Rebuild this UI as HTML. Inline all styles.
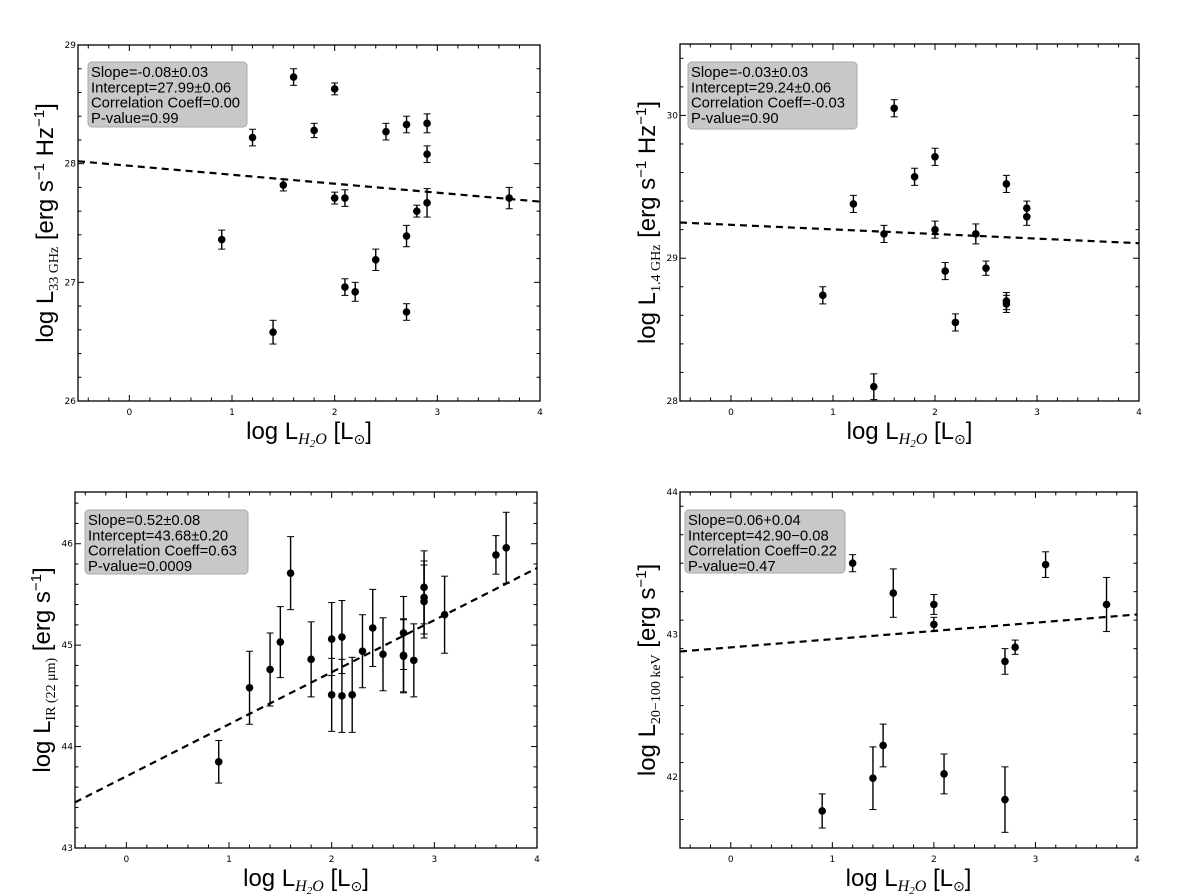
<!DOCTYPE html>
<html><head><meta charset="utf-8"><style>
html,body{margin:0;padding:0;background:#fff;}
svg{display:block;font-family:"Liberation Sans","DejaVu Sans",sans-serif;}
.tick{font-family:"DejaVu Sans","Liberation Sans",sans-serif;font-size:9px;fill:#000;}
.stat{font-size:14.8px;fill:#000;}
.ttl{font-size:24px;fill:#000;}
</style></head><body>
<svg id="fig" width="1200" height="895" viewBox="0 0 1200 895" xmlns="http://www.w3.org/2000/svg"></svg>
<script>
// Panel A: 33 GHz
const aX = [0.9,1.2,1.4,1.5,1.6,1.8,2.0,2.0,2.1,2.1,2.2,2.4,2.5,2.7,2.7,2.7,2.8,2.9,2.9,2.9,3.7];
const aY = [27.36,28.22,26.58,27.82,28.73,28.28,28.63,27.71,27.71,26.96,26.92,27.19,28.27,28.33,27.39,26.75,27.60,28.34,28.08,27.67,27.71];
const aE = [0.08,0.07,0.1,0.05,0.07,0.06,0.05,0.05,0.07,0.07,0.08,0.09,0.07,0.07,0.09,0.07,0.05,0.08,0.07,0.12,0.09];
const aFit = [28.02,27.68];
const aYTicks = [26,27,28,29];
const aStats = ["Slope=-0.08\u00b10.03","Intercept=27.99\u00b10.06","Correlation Coeff=0.00","P-value=0.99"];
// Panel B: 1.4 GHz
const bX = [0.9,1.2,1.4,1.5,1.6,1.8,2.0,2.0,2.1,2.2,2.4,2.5,2.7,2.7,2.7,2.9,2.9];
const bY = [28.74,29.38,28.10,29.17,30.05,29.57,29.71,29.20,28.91,28.55,29.17,28.93,29.52,28.70,28.68,29.35,29.29];
const bE = [0.06,0.06,0.09,0.06,0.06,0.06,0.06,0.06,0.06,0.06,0.07,0.05,0.06,0.06,0.06,0.05,0.06];
const bFit = [29.25,29.105];
const bYTicks = [28,29,30];
const bStats = ["Slope=-0.03\u00b10.03","Intercept=29.24\u00b10.06","Correlation Coeff=-0.03","P-value=0.90"];
// Panel C: IR 22 um
const cX = [0.9,1.2,1.4,1.5,1.6,1.8,2.0,2.0,2.1,2.1,2.2,2.3,2.4,2.5,2.7,2.7,2.7,2.8,2.9,2.9,2.9,3.1,3.6,3.7];
const cY = [43.85,44.58,44.76,45.03,45.71,44.86,45.06,44.51,45.08,44.50,44.51,44.94,45.17,44.91,45.12,44.90,44.89,44.85,45.57,45.47,45.43,45.30,45.89,45.96];
const cE = [0.21,0.36,0.36,0.35,0.36,0.37,0.36,0.36,0.36,0.36,0.37,0.36,0.38,0.36,0.36,0.36,0.36,0.36,0.36,0.36,0.36,0.38,0.19,0.35];
const cFit = [43.45,45.76];
const cYTicks = [43,44,45,46];
const cStats = ["Slope=0.52\u00b10.08","Intercept=43.68\u00b10.20","Correlation Coeff=0.63","P-value=0.0009"];
// Panel D: 20-100 keV
const dX = [0.9,1.2,1.4,1.5,1.6,2.0,2.0,2.1,2.7,2.7,2.8,3.1,3.7];
const dY = [41.76,43.50,41.99,42.22,43.29,43.21,43.07,42.02,42.81,41.84,42.91,43.49,43.21];
const dE = [0.12,0.06,0.22,0.15,0.17,0.07,0.05,0.14,0.09,0.23,0.05,0.09,0.19];
const dFit = [42.88,43.14];
const dYTicks = [42,43,44];
const dStats = ["Slope=0.06+0.04","Intercept=42.90\u22120.08","Correlation Coeff=0.22","P-value=0.47"];
const xTicks = [0,1,2,3,4];

const NS="http://www.w3.org/2000/svg";
const fig=document.getElementById('fig');
function mk(tag,attrs,parent){const e=document.createElementNS(NS,tag);for(const k in attrs)e.setAttribute(k,attrs[k]);(parent||fig).appendChild(e);return e;}

function panel(id,box,ymin,ymax,xs,ys,es,fit,yticks,stats,statBox,titleHTML){
  const g=mk('g',{});
  
  
  const xmin=-0.5,xmax=4;
  const sx=v=>box.l+(v-xmin)/(xmax-xmin)*(box.r-box.l);
  const sy=v=>box.b-(v-ymin)/(ymax-ymin)*(box.b-box.t);
  for(let v=-0.4;v<=3.99;v+=0.2){const x=sx(v);const maj=Math.abs(v-Math.round(v))<1e-6;const L=maj?6:3.5;
    const t1=mk('line',{x1:x,x2:x,y1:box.b,y2:box.b-L,stroke:'#000','stroke-width':1},g);
    
    mk('line',{x1:x,x2:x,y1:box.t,y2:box.t+L,stroke:'#000','stroke-width':1},g);}
  for(let v=ymin+0.2;v<ymax-0.01;v+=0.2){const y=sy(v);const maj=Math.abs(v-Math.round(v))<1e-6;const L=maj?6:3.5;
    const t2=mk('line',{x1:box.l,x2:box.l+L,y1:y,y2:y,stroke:'#000','stroke-width':1},g);
    
    mk('line',{x1:box.r,x2:box.r-L,y1:y,y2:y,stroke:'#000','stroke-width':1},g);}
  xTicks.forEach(v=>{const t=mk('text',{x:sx(v),y:box.b+14,'text-anchor':'middle',class:'tick'},g);t.textContent=v;
    });
  yticks.forEach(v=>{const t=mk('text',{x:box.l-2,y:sy(v)+3,'text-anchor':'end',class:'tick'},g);t.textContent=v;
    });
  const fl=mk('line',{x1:sx(xmin),y1:sy(fit[0]),x2:sx(xmax),y2:sy(fit[1]),stroke:'#000','stroke-width':2.2,'stroke-dasharray':'7,5'},g);
  
  xs.forEach((xv,i)=>{const x=sx(xv),y=sy(ys[i]),y1=sy(ys[i]+es[i]),y2=sy(ys[i]-es[i]);
    const pg=mk('g',{},g);
    
    mk('line',{x1:x,x2:x,y1:y1,y2:y2,stroke:'#000','stroke-width':1.4},pg);
    mk('line',{x1:x-3.5,x2:x+3.5,y1:y1,y2:y1,stroke:'#000','stroke-width':1},pg);
    mk('line',{x1:x-3.5,x2:x+3.5,y1:y2,y2:y2,stroke:'#000','stroke-width':1},pg);
    mk('circle',{cx:x,cy:y,r:3.8,fill:'#000'},pg);});
  const fr=mk('rect',{x:box.l,y:box.t,width:box.r-box.l,height:box.b-box.t,fill:'none',stroke:'#000','stroke-width':1.3},g);
  
  const sb=mk('g',{},g);
  
  mk('rect',{x:statBox.x,y:statBox.y,width:statBox.w,height:statBox.h,rx:4,fill:'#c8c8c8',stroke:'#a8a8a8','stroke-width':1},sb);
  stats.forEach((s,i)=>{const t=mk('text',{x:statBox.x+3,y:statBox.y+15+i*15.3,class:'stat'},sb);t.textContent=s;});
  const xt=mk('text',{x:(box.l+box.r)/2,y:box.b+38,'text-anchor':'middle',class:'ttl'},g);
  
  xt.innerHTML='log L<tspan font-family="Liberation Serif" font-style="italic" font-size="16" dy="5">H<tspan font-size="11" dy="3">2</tspan><tspan dy="-3">O</tspan></tspan><tspan dy="-5"> [L</tspan><tspan font-size="14" dy="5">\u2299</tspan><tspan dy="-5">]</tspan>';
  const cy=(box.t+box.b)/2;
  const yt=mk('text',{x:0,y:0,'text-anchor':'middle',class:'ttl',transform:`translate(${box.l-25},${cy}) rotate(-90)`},g);
  
  yt.innerHTML=titleHTML;
}
panel('radio-33ghz',{l:78,r:540,t:45,b:401},26,29,aX,aY,aE,aFit,aYTicks,aStats,{x:88,y:62,w:159,h:65},
 'log L<tspan font-family="Liberation Serif" font-size="14" dy="5">33 GHz</tspan><tspan dy="-5"> [erg s</tspan><tspan font-size="15" dy="-9">\u22121</tspan><tspan dy="9">  Hz</tspan><tspan font-size="15" dy="-9">\u22121</tspan><tspan dy="9">]</tspan>');
panel('radio-1p4ghz',{l:680,r:1139,t:44,b:401},28,30.5,bX,bY,bE,bFit,bYTicks,bStats,{x:688,y:62,w:169,h:67},
 'log L<tspan font-family="Liberation Serif" font-size="14" dy="5">1.4 GHz</tspan><tspan dy="-5"> [erg s</tspan><tspan font-size="15" dy="-9">\u22121</tspan><tspan dy="9">  Hz</tspan><tspan font-size="15" dy="-9">\u22121</tspan><tspan dy="9">]</tspan>');
panel('infrared-22um',{l:75,r:537,t:492,b:848},43,46.51,cX,cY,cE,cFit,cYTicks,cStats,{x:85,y:510,w:163,h:64},
 'log L<tspan font-family="Liberation Serif" font-size="14" dy="5">IR (22 \u03bcm)</tspan><tspan dy="-5"> [erg s</tspan><tspan font-size="15" dy="-9">\u22121</tspan><tspan dy="9">]</tspan>');
panel('hard-xray',{l:680,r:1137,t:492,b:848},41.5,44,dX,dY,dE,dFit,dYTicks,dStats,{x:685,y:510,w:160,h:63},
 'log L<tspan font-family="Liberation Serif" font-size="14" dy="5">20\u2212100 keV</tspan><tspan dy="-5"> [erg s</tspan><tspan font-size="15" dy="-9">\u22121</tspan><tspan dy="9">]</tspan>');
</script>
</body></html>
